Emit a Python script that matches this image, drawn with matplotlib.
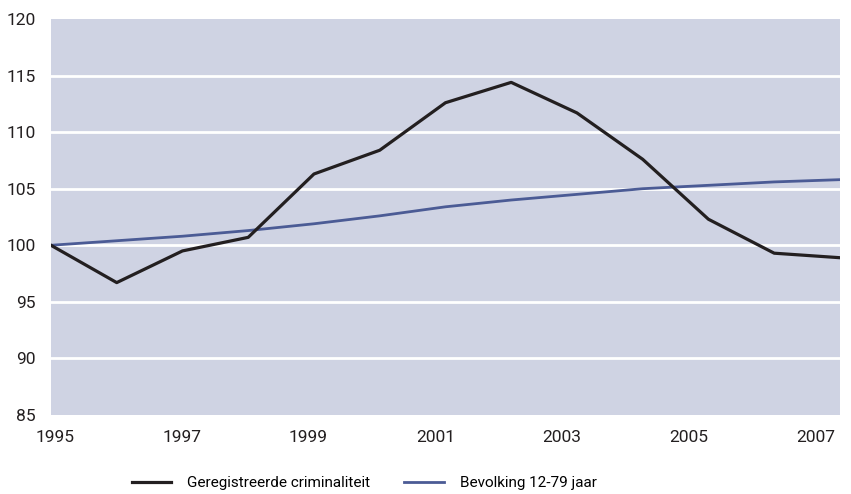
import matplotlib
matplotlib.use("Agg")
import matplotlib.pyplot as plt
import numpy as np

# Indexcijfers, 1995 = 100
JAREN = [1995, 1996, 1997, 1998, 1999, 2000, 2001, 2002, 2003, 2004, 2005, 2006, 2007]
CRIMINALITEIT = [100.0, 96.7, 99.5, 100.7, 106.3, 108.4, 112.6, 114.4, 111.7, 107.6, 102.3, 99.3, 98.9]
BEVOLKING = [100.0, 100.4, 100.8, 101.3, 101.9, 102.6, 103.4, 104.0, 104.5, 105.0, 105.3, 105.6, 105.8]

TICK_LABELS = ["1995", "1997", "1999", "2001", "2003", "2005", "2007"]
Y_TICKS = [85, 90, 95, 100, 105, 110, 115, 120]

ACHTERGROND = "#cfd3e3"
ZWART = "#231f20"
BLAUW = "#4b5b95"

plt.rcParams["font.family"] = ["Roboto", "DejaVu Sans"]

fig = plt.figure(figsize=(8.51, 4.94), dpi=100)
ax = fig.add_axes([0.0599, 0.16, 0.9271, 0.8015])
ax.set_facecolor(ACHTERGROND)

for y in Y_TICKS[1:-1]:
    ax.axhline(y, color="white", linewidth=2, zorder=1)

ax.plot(JAREN, CRIMINALITEIT, color=ZWART, linewidth=2.3, zorder=3,
        label="Geregistreerde criminaliteit")
ax.plot(JAREN, BEVOLKING, color=BLAUW, linewidth=2.0, zorder=2,
        label="Bevolking 12-79 jaar")

ax.set_xlim(JAREN[0], JAREN[-1])
ax.set_ylim(Y_TICKS[0], Y_TICKS[-1])

# labels iets dichter op elkaar dan de datapunten, zoals in het origineel
ax.set_xticks(np.linspace(1995.06, 2006.63, len(TICK_LABELS)))
ax.set_xticklabels(TICK_LABELS)
ax.set_yticks(Y_TICKS)
ax.tick_params(axis="both", length=0, labelsize=12.5, colors="#231f20")
ax.tick_params(axis="x", pad=11)
ax.tick_params(axis="y", pad=11)

for spine in ax.spines.values():
    spine.set_visible(False)

leg = fig.legend(
    loc="center",
    bbox_to_anchor=(0.428, 0.022),
    ncol=2,
    frameon=False,
    handlelength=2.6,
    handletextpad=1.05,
    columnspacing=2.2,
    prop={"family": ["Roboto"], "size": 11},
)

fig.savefig("out.png", dpi=100)
